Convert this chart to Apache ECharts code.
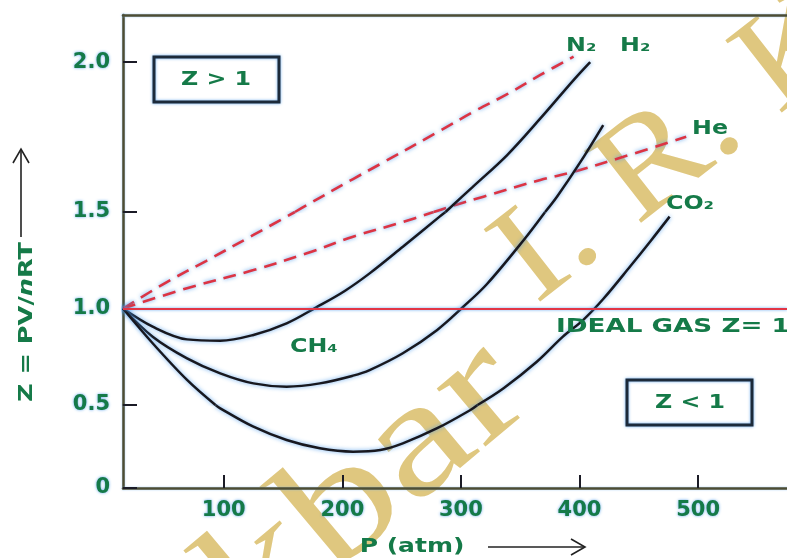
<!DOCTYPE html>
<html>
<head>
<meta charset="utf-8">
<script src="https://cdn.jsdelivr.net/npm/echarts@6/dist/echarts.min.js"></script>
<style>
  html, body { margin: 0; padding: 0; background: #fff; }
  #chart { width: 787px; height: 558px; }
</style>
</head>
<body>
<div id="chart"></div>
<script>
// readings: [P (atm), Z]
var pTicks = [100, 200, 300, 400, 500];
var zTicksTop = [2.0];

var n2 = [[15,1.0],[40,0.906],[69,0.84],[97,0.833],[125,0.863],[153,0.923],[178,1.006],[202,1.091],[223,1.182],[251,1.32],[282,1.476],[287,1.5],[310,1.584],[339,1.69],[367,1.812],[395,1.94],[409,2.0]];
var ch4 = [[15,1.0],[40,0.854],[69,0.742],[97,0.664],[125,0.612],[153,0.595],[181,0.612],[209,0.652],[223,0.681],[251,0.768],[280,0.889],[302,1.009],[322,1.127],[353,1.355],[371,1.5],[381,1.551],[400,1.662],[420,1.79]];
var co2 = [[15,1.0],[40,0.82],[69,0.63],[93,0.5],[97,0.48],[125,0.369],[153,0.289],[181,0.239],[209,0.219],[232,0.229],[251,0.269],[280,0.36],[308,0.47],[314,0.5],[336,0.587],[364,0.724],[386,0.854],[403,0.94],[420,1.049],[443,1.22],[460,1.35],[476,1.476]];
var h2 = [[15,1.0],[52,1.137],[85,1.246],[125,1.381],[160,1.5],[170,1.523],[209,1.61],[232,1.66],[282,1.77],[310,1.833],[339,1.893],[367,1.957],[395,2.018]];
var he = [[15,1.0],[69,1.105],[125,1.199],[170,1.286],[209,1.372],[251,1.448],[277,1.5],[291,1.518],[319,1.551],[367,1.607],[395,1.634],[437,1.684],[490,1.751]];

var chart = echarts.init(document.getElementById('chart'));

var green = '#157a48';
var halo = 'rgba(70,150,235,0.85)';
var axisColor = '#4d4d33';
var font = '"DejaVu Sans", sans-serif';

// the picture's Z scale is uneven (0-0.5, 0.5-1.5 and 1.5-2.0 have different spacing),
// so each band gets its own stacked grid
var bands = [[0, 0.5], [0.5, 1.5], [1.5, 2.157]];

function inBand(d, b) {
  return d.map(function (p) {
    return (p[1] >= b[0] - 1e-9 && p[1] <= b[1] + 1e-9) ? p : [p[0], '-'];
  });
}

var solidStyle = { color: '#18181f', width: 2.5, shadowColor: halo, shadowBlur: 4 };
var dashStyle = { color: '#dc3444', width: 2.6, type: [13, 8], shadowColor: halo, shadowBlur: 4 };

function curve(name, data, style) {
  var out = [];
  bands.forEach(function (b, i) {
    var d = inBand(data, b);
    var n = d.filter(function (p) { return p[1] !== '-'; }).length;
    if (n < 2) return;
    out.push({
      name: name, type: 'line', xAxisIndex: i, yAxisIndex: i, data: d,
      showSymbol: false, smooth: 0.35, connectNulls: false, lineStyle: style, silent: true
    });
  });
  return out;
}

function label(text, x, y, size, align, sx) {
  return {
    type: 'text', x: x, y: y, z: 50, scaleX: sx || 1.25,
    style: {
      text: text, fill: green, font: 'bold ' + size + 'px ' + font,
      align: align || 'left', verticalAlign: 'middle',
      shadowColor: halo, shadowBlur: 3
    }
  };
}

var axisLineStyle = { color: axisColor, width: 2.5, shadowColor: 'rgba(120,180,240,0.7)', shadowBlur: 2 };
var tickStyle = { color: '#1b1b26', width: 2 };
var labelStyle = {
  color: green, fontWeight: 'bold', fontSize: 21, fontFamily: font,
  textShadowColor: halo, textShadowBlur: 3
};
function fmt(v) { return v === 0 ? '0' : v.toFixed(1); }

var option = {
  backgroundColor: '#ffffff',
  animation: false,
  grid: [
    { left: 123, right: 0, top: 405, height: 83 },
    { left: 123, right: 0, top: 212, height: 193 },
    { left: 123, right: 0, top: 15, height: 197 }
  ],
  xAxis: [{
    gridIndex: 0, type: 'value', min: 15, max: 575,
    axisLine: { show: true, onZero: false, lineStyle: axisLineStyle },
    axisTick: { show: true, inside: true, length: 13, customValues: pTicks, lineStyle: tickStyle },
    axisLabel: Object.assign({ customValues: pTicks, margin: 12 }, labelStyle),
    splitLine: { show: false }
  }, {
    gridIndex: 1, type: 'value', min: 15, max: 575, show: false
  }, {
    gridIndex: 2, type: 'value', min: 15, max: 575, position: 'top',
    axisLine: { show: true, onZero: false, lineStyle: axisLineStyle },
    axisTick: { show: false },
    axisLabel: { show: false },
    splitLine: { show: false }
  }],
  yAxis: [{
    gridIndex: 0, type: 'value', min: 0, max: 0.5, interval: 0.5,
    axisLine: { show: true, onZero: false, lineStyle: axisLineStyle },
    axisTick: { show: true, inside: true, length: 14, lineStyle: tickStyle },
    axisLabel: Object.assign({ margin: 13, formatter: fmt }, labelStyle),
    splitLine: { show: false }
  }, {
    gridIndex: 1, type: 'value', min: 0.5, max: 1.5, interval: 0.5,
    axisLine: { show: true, onZero: false, lineStyle: axisLineStyle },
    axisTick: { show: true, inside: true, length: 14, lineStyle: tickStyle },
    axisLabel: Object.assign({ margin: 13, formatter: fmt, showMinLabel: false }, labelStyle),
    splitLine: { show: false }
  }, {
    gridIndex: 2, type: 'value', min: 1.5, max: 2.157,
    axisLine: { show: true, onZero: false, lineStyle: axisLineStyle },
    axisTick: { show: true, inside: true, length: 14, customValues: zTicksTop, lineStyle: tickStyle },
    axisLabel: Object.assign({ margin: 13, customValues: zTicksTop, formatter: fmt }, labelStyle),
    splitLine: { show: false }
  }],
  series: [].concat(
    [{
      name: 'ideal', type: 'line', xAxisIndex: 1, yAxisIndex: 1, data: [],
      markLine: {
        silent: true, symbol: 'none', label: { show: false },
        lineStyle: { color: '#e23545', width: 2, type: 'solid', shadowColor: halo, shadowBlur: 3 },
        data: [{ yAxis: 1 }]
      }
    }],
    curve('H2', h2, dashStyle),
    curve('He', he, dashStyle),
    curve('N2', n2, solidStyle),
    curve('CH4', ch4, solidStyle),
    curve('CO2', co2, solidStyle)
  ),
  graphic: [
    // watermark
    {
      type: 'text', x: 507, y: 372, z: -1, rotation: 40 * Math.PI / 180, scaleX: 1.25,
      style: { text: 'Akbar', fill: '#dfc77f', font: '165px "Liberation Serif", serif', align: 'right', verticalAlign: 'middle' }
    },
    {
      type: 'text', x: 513, y: 276, z: -1, rotation: 38 * Math.PI / 180, scaleX: 1.1,
      style: { text: 'I. R. K', fill: '#dfc77f', font: '140px "Liberation Serif", serif', align: 'left', verticalAlign: 'middle' }
    },
    // boxes
    {
      type: 'rect', z: 50, shape: { x: 154, y: 57, width: 125, height: 45 },
      style: { fill: null, stroke: '#1c2a3a', lineWidth: 3, shadowColor: halo, shadowBlur: 3 }
    },
    {
      type: 'rect', z: 50, shape: { x: 627, y: 380, width: 125, height: 45 },
      style: { fill: null, stroke: '#1c2a3a', lineWidth: 3, shadowColor: halo, shadowBlur: 3 }
    },
    label('Z > 1', 216, 80, 19, 'center'),
    label('Z < 1', 690, 403, 19, 'center'),
    label('IDEAL GAS Z= 1', 556, 327, 19, 'left', 1.38),
    label('CH₄', 290, 347, 19),
    label('N₂', 566, 46, 19),
    label('H₂', 620, 46, 19),
    label('He', 692, 129, 19),
    label('CO₂', 666, 204, 19),
    // axis titles with arrows
    label('P (atm)', 412, 547, 20, 'center'),
    {
      type: 'text', x: 27, y: 322, z: 50, rotation: Math.PI / 2, scaleX: 1.28,
      style: {
        text: 'Z = PV/{i|n}RT', fill: green, font: 'bold 20px ' + font,
        align: 'center', verticalAlign: 'middle', shadowColor: halo, shadowBlur: 3,
        rich: { i: { fontStyle: 'italic', fontWeight: 'bold', fontSize: 20, fontFamily: font, fill: green } }
      }
    },
    { type: 'line', z: 50, shape: { x1: 488, y1: 547, x2: 584, y2: 547 }, style: { stroke: '#222', lineWidth: 1.6 } },
    { type: 'polyline', z: 50, shape: { points: [[571, 539], [585, 547], [571, 555]] }, style: { stroke: '#222', lineWidth: 1.6, fill: null } },
    { type: 'line', z: 50, shape: { x1: 21, y1: 237, x2: 21, y2: 150 }, style: { stroke: '#222', lineWidth: 1.6 } },
    { type: 'polyline', z: 50, shape: { points: [[13, 163], [21, 149], [29, 163]] }, style: { stroke: '#222', lineWidth: 1.6, fill: null } }
  ]
};

chart.setOption(option);
</script>
</body>
</html>
